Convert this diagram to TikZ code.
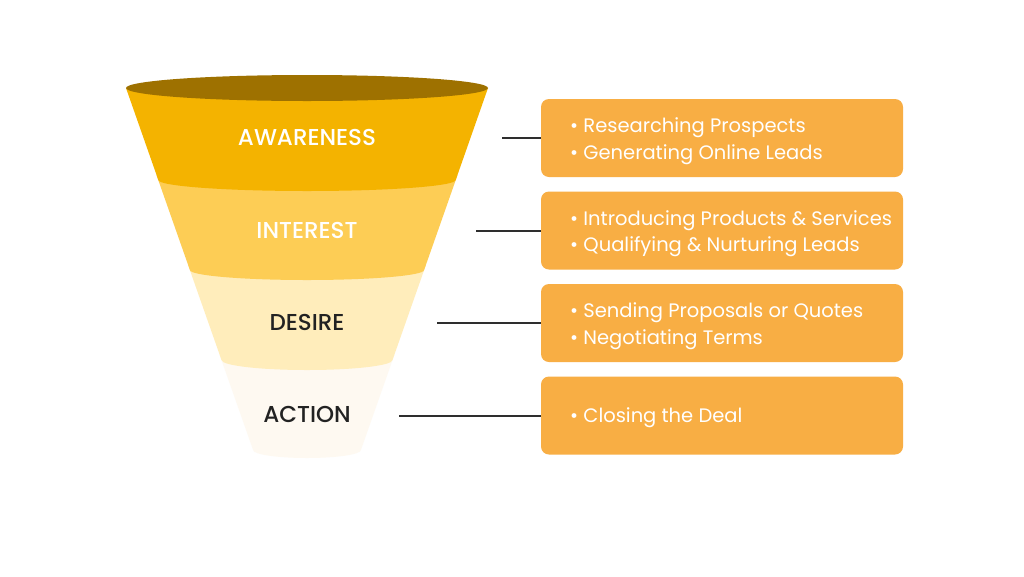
\documentclass[tikz,border=0pt]{standalone}
\usepackage{fontspec}
\setmainfont{Poppins}
\newfontfamily\pmed{Poppins Medium}
\definecolor{funtop}{HTML}{9E7100}
\definecolor{awa}{HTML}{F4B300}
\definecolor{inte}{HTML}{FDCD55}
\definecolor{des}{HTML}{FFEDBB}
\definecolor{act}{HTML}{FEF9F1}
\definecolor{boxc}{HTML}{F8AE44}
\definecolor{linec}{HTML}{2E2E2E}
\definecolor{darktxt}{HTML}{222222}
\tikzset{
  stagelab/.style={font=\pmed\fontsize{23}{26}\selectfont, inner sep=0pt, anchor=center},
  infobox/.style={fill=boxc, draw=none, rounded corners=8pt, minimum width=362pt, minimum height=78pt, inner sep=0pt},
  infotxt/.style={font=\fontsize{19.5}{26.5}\selectfont, text=white, align=left, anchor=west, inner sep=0pt},
  conn/.style={draw=linec, line width=2pt}
}
\begin{document}
\begin{tikzpicture}[x=1pt,y=-1pt]
\useasboundingbox (0,0) rectangle (1024,576);
\fill[white] (0,0) rectangle (1024,576);
% funnel bands (painted bottom-up)
\fill[act] (219.7,355) -- (253.1,450) arc[start angle=180, end angle=0, x radius=53.9, y radius=8] -- (394.3,355) -- cycle;
\fill[des] (188.1,265) -- (221.5,360) arc[start angle=180, end angle=0, x radius=85.5, y radius=10] -- (425.9,265) -- cycle;
\fill[inte] (156.5,175) -- (189.9,270) arc[start angle=180, end angle=0, x radius=117.1, y radius=10] -- (457.5,175) -- cycle;
\fill[awa] (126,88) -- (158.3,180) arc[start angle=180, end angle=0, x radius=148.7, y radius=11] -- (488,88) -- cycle;
\fill[funtop] (307,88) ellipse[x radius=181, y radius=13];
% stage labels
\node[stagelab, text=white] (l1) at (307,137) {AWARENESS};
\node[stagelab, text=white] (l2) at (307,230) {INTEREST};
\node[stagelab, text=darktxt] (l3) at (307,322) {DESIRE};
\node[stagelab, text=darktxt] (l4) at (307,414) {ACTION};
% boxes
\node[infobox] (b1) at (722,138) {};
\node[infobox] (b2) at (722,230.5) {};
\node[infobox] (b3) at (722,323) {};
\node[infobox] (b4) at (722,415.5) {};
\node[infotxt] (t1) at (570,141) {• Researching Prospects\\• Generating Online Leads};
\node[infotxt] (t2) at (570,233.5) {• Introducing Products \& Services\\• Qualifying \& Nurturing Leads};
\node[infotxt] (t3) at (570,326) {• Sending Proposals or Quotes\\• Negotiating Terms};
\node[infotxt] (t4) at (570,417.5) {• Closing the Deal};
% connectors
\coordinate (s1) at (502,138);
\coordinate (s2) at (476,230.5);
\coordinate (s3) at (437,323);
\coordinate (s4) at (399,415.5);
\draw[conn] (s1) -- (b1.west);
\draw[conn] (s2) -- (b2.west);
\draw[conn] (s3) -- (b3.west);
\draw[conn] (s4) -- (b4.west);
\end{tikzpicture}
\end{document}
